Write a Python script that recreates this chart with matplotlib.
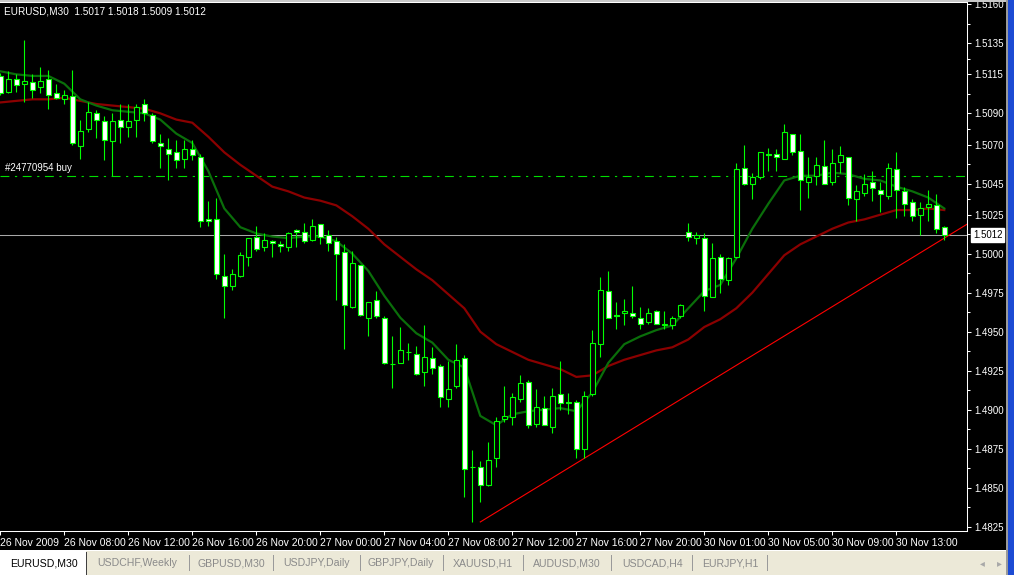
import matplotlib
matplotlib.use("Agg")
import matplotlib.pyplot as plt
import matplotlib.transforms as mtransforms
from matplotlib.patches import Rectangle

plt.rcParams['font.family'] = ['Liberation Sans', 'DejaVu Sans']

# EURUSD M30 candles, 26 Nov 04:00 .. 30 Nov 16:00
opens = [1.5114, 1.5104, 1.5112, 1.5109, 1.5110, 1.5107, 1.5112, 1.5103, 1.5099, 1.5101,
         1.5069, 1.5080, 1.5090, 1.5085, 1.5072, 1.5086, 1.5081, 1.5086, 1.5096, 1.5089,
         1.5071, 1.5067, 1.5065, 1.5061, 1.5067, 1.5062, 1.5022, 1.5022, 1.4986, 1.4979,
         1.4986, 1.4998, 1.5011, 1.5004, 1.5008, 1.5006, 1.5004, 1.5015, 1.5014, 1.5009,
         1.5019, 1.5012, 1.5008, 1.5001, 1.4966, 1.4993, 1.4959, 1.4970, 1.4959, 1.4929,
         1.4930, 1.4937, 1.4936, 1.4924, 1.4933, 1.4928, 1.4907, 1.4915, 1.4933, 1.4863,
         1.4863, 1.4852, 1.4869, 1.4894, 1.4895, 1.4907, 1.4918, 1.4891, 1.4901, 1.4889,
         1.4910, 1.4905, 1.4905, 1.4875, 1.4910, 1.4942, 1.4976, 1.4961, 1.4962, 1.4962,
         1.4959, 1.4956, 1.4963, 1.4954, 1.4954, 1.4960, 1.5014, 1.5010, 1.5010, 1.4972,
         1.4998, 1.4983, 1.4998, 1.5055, 1.5045, 1.5049, 1.5064, 1.5064, 1.5061, 1.5077,
         1.5066, 1.5046, 1.5050, 1.5056, 1.5046, 1.5059, 1.5062, 1.5035, 1.5039, 1.5046,
         1.5041, 1.5037, 1.5054, 1.5040, 1.5033, 1.5025, 1.5030, 1.5031, 1.5017]
highs = [1.5116, 1.5117, 1.5115, 1.5137, 1.5115, 1.5120, 1.5118, 1.5109, 1.5105, 1.5118,
         1.5086, 1.5097, 1.5092, 1.5088, 1.5090, 1.5096, 1.5096, 1.5096, 1.5099, 1.5090,
         1.5077, 1.5074, 1.5073, 1.5073, 1.5073, 1.5064, 1.5034, 1.5036, 1.5000, 1.4990,
         1.5001, 1.5010, 1.5018, 1.5013, 1.5009, 1.5008, 1.5014, 1.5016, 1.5020, 1.5022,
         1.5019, 1.5015, 1.5011, 1.5006, 1.5002, 1.4993, 1.4969, 1.4976, 1.4960, 1.4947,
         1.4953, 1.4943, 1.4941, 1.4954, 1.4940, 1.4929, 1.4931, 1.4942, 1.4935, 1.4874,
         1.4867, 1.4879, 1.4895, 1.4915, 1.4911, 1.4922, 1.4919, 1.4913, 1.4909, 1.4914,
         1.4931, 1.4911, 1.4906, 1.4912, 1.4951, 1.4985, 1.4989, 1.4969, 1.4971, 1.4979,
         1.4966, 1.4965, 1.4964, 1.4963, 1.4960, 1.4968, 1.5020, 1.5014, 1.5013, 1.5007,
         1.5000, 1.4998, 1.5058, 1.5070, 1.5052, 1.5065, 1.5068, 1.5067, 1.5083, 1.5077,
         1.5077, 1.5062, 1.5062, 1.5073, 1.5067, 1.5069, 1.5062, 1.5044, 1.5051, 1.5053,
         1.5046, 1.5058, 1.5065, 1.5043, 1.5035, 1.5033, 1.5041, 1.5038, 1.5018]
lows = [1.5102, 1.5103, 1.5104, 1.5097, 1.5100, 1.5103, 1.5093, 1.5099, 1.5096, 1.5070,
        1.5061, 1.5078, 1.5074, 1.5060, 1.5050, 1.5071, 1.5075, 1.5075, 1.5085, 1.5071,
        1.5055, 1.5047, 1.5055, 1.5055, 1.5060, 1.5017, 1.5018, 1.4984, 1.4959, 1.4977,
        1.4985, 1.4992, 1.5002, 1.5002, 1.4998, 1.5001, 1.5002, 1.5004, 1.5007, 1.5008,
        1.5006, 1.5002, 1.4970, 1.4939, 1.4965, 1.4960, 1.4947, 1.4959, 1.4929, 1.4914,
        1.4930, 1.4932, 1.4922, 1.4915, 1.4923, 1.4902, 1.4902, 1.4914, 1.4844, 1.4828,
        1.4841, 1.4851, 1.4863, 1.4892, 1.4890, 1.4905, 1.4888, 1.4889, 1.4890, 1.4885,
        1.4900, 1.4897, 1.4869, 1.4869, 1.4909, 1.4934, 1.4959, 1.4952, 1.4954, 1.4959,
        1.4952, 1.4955, 1.4955, 1.4952, 1.4952, 1.4959, 1.5008, 1.5006, 1.4963, 1.4972,
        1.4975, 1.4980, 1.4997, 1.5044, 1.5035, 1.5048, 1.5053, 1.5053, 1.5061, 1.5063,
        1.5028, 1.5036, 1.5044, 1.5045, 1.5044, 1.5052, 1.5031, 1.5021, 1.5037, 1.5034,
        1.5027, 1.5035, 1.5023, 1.5024, 1.5021, 1.5012, 1.5021, 1.5013, 1.5009]
closes = [1.5103, 1.5112, 1.5108, 1.5111, 1.5105, 1.5111, 1.5102, 1.5100, 1.5102, 1.5071,
          1.5079, 1.5091, 1.5086, 1.5073, 1.5085, 1.5081, 1.5085, 1.5094, 1.5090, 1.5072,
          1.5069, 1.5064, 1.5060, 1.5067, 1.5063, 1.5021, 1.5021, 1.4987, 1.4979, 1.4987,
          1.4999, 1.5010, 1.5003, 1.5009, 1.5007, 1.5005, 1.5013, 1.5014, 1.5008, 1.5018,
          1.5011, 1.5007, 1.5000, 1.4967, 1.4994, 1.4961, 1.4969, 1.4960, 1.4930, 1.4929,
          1.4938, 1.4937, 1.4923, 1.4934, 1.4927, 1.4908, 1.4913, 1.4932, 1.4862, 1.4863,
          1.4852, 1.4868, 1.4893, 1.4896, 1.4908, 1.4917, 1.4890, 1.4902, 1.4890, 1.4909,
          1.4904, 1.4904, 1.4875, 1.4909, 1.4943, 1.4977, 1.4959, 1.4960, 1.4963, 1.4960,
          1.4955, 1.4962, 1.4955, 1.4955, 1.4959, 1.4967, 1.5011, 1.5012, 1.4973, 1.4997,
          1.4984, 1.4997, 1.5054, 1.5045, 1.5049, 1.5065, 1.5063, 1.5062, 1.5078, 1.5065,
          1.5047, 1.5049, 1.5057, 1.5045, 1.5058, 1.5063, 1.5036, 1.5040, 1.5045, 1.5042,
          1.5038, 1.5055, 1.5041, 1.5032, 1.5024, 1.5029, 1.5032, 1.5016, 1.5012]

# moving averages read every second bar
ma_bars = list(range(0, 119, 2))
ma_fast = [1.5117, 1.5115, 1.5114, 1.5114, 1.5109, 1.5099, 1.5095, 1.5092, 1.5091, 1.5090,
           1.5086, 1.5077, 1.5071, 1.5053, 1.5029, 1.5017, 1.5013, 1.5011, 1.5010, 1.5011,
           1.5011, 1.5008, 1.5000, 1.4989, 1.4973, 1.4959, 1.4949, 1.4943, 1.4932, 1.4927,
           1.4896, 1.4890, 1.4897, 1.4899, 1.4900, 1.4901, 1.4899, 1.4911, 1.4930, 1.4942,
           1.4947, 1.4951, 1.4954, 1.4965, 1.4976, 1.4980, 1.4997, 1.5016, 1.5032, 1.5047,
           1.5050, 1.5050, 1.5052, 1.5051, 1.5048, 1.5047, 1.5043, 1.5040, 1.5036, 1.5029]
ma_slow = [1.5097, 1.5098, 1.5099, 1.5099, 1.5100, 1.5098, 1.5096, 1.5095, 1.5094, 1.5093,
           1.5090, 1.5086, 1.5084, 1.5075, 1.5065, 1.5057, 1.5050, 1.5043, 1.5040, 1.5036,
           1.5034, 1.5031, 1.5024, 1.5016, 1.5006, 1.4998, 1.4990, 1.4983, 1.4974, 1.4965,
           1.4950, 1.4942, 1.4937, 1.4932, 1.4929, 1.4926, 1.4921, 1.4922, 1.4928, 1.4932,
           1.4935, 1.4938, 1.4940, 1.4945, 1.4953, 1.4958, 1.4965, 1.4975, 1.4987, 1.4999,
           1.5006, 1.5011, 1.5016, 1.5020, 1.5022, 1.5025, 1.5028, 1.5028, 1.5029, 1.5028]

trend_bars = [60, 118]
trend_prices = [1.4828, 1.5010]
order_price = 1.5050
order_label = "#24770954 buy"
bid = 1.5012
title = "EURUSD,M30  1.5017 1.5018 1.5009 1.5012"

price_ticks = [1.5160, 1.5135, 1.5115, 1.5090, 1.5070, 1.5045, 1.5025, 1.5000,
               1.4975, 1.4950, 1.4925, 1.4900, 1.4875, 1.4850, 1.4825]
time_ticks = [0, 8, 16, 24, 32, 40, 48, 56, 64, 72, 80, 88, 96, 104, 112]
time_labels = ["26 Nov 2009", "26 Nov 08:00", "26 Nov 12:00", "26 Nov 16:00", "26 Nov 20:00",
               "27 Nov 00:00", "27 Nov 04:00", "27 Nov 08:00", "27 Nov 12:00", "27 Nov 16:00",
               "27 Nov 20:00", "30 Nov 01:00", "30 Nov 05:00", "30 Nov 09:00", "30 Nov 13:00"]
tabs = ["EURUSD,M30", "USDCHF,Weekly", "GBPUSD,M30", "USDJPY,Daily", "GBPJPY,Daily",
        "XAUUSD,H1", "AUDUSD,M30", "USDCAD,H4", "EURJPY,H1"]

W, H = 1014, 575
fig = plt.figure(figsize=(W / 100, H / 100), dpi=100, facecolor='black')
ax = fig.add_axes([0, 44 / H, 967 / W, 529 / H])
ax.set_facecolor('black')
ax.set_xlim(-0.04, 120.84)
ax.set_ylim(1.48222, 1.51614)

lime = '#00ff00'

# indicator lines behind the candles
ax.plot(ma_bars, ma_slow, color='#8b0000', lw=1.6, zorder=2)
ax.plot(ma_bars, ma_fast, color='#0a6e0a', lw=1.6, zorder=2)
ax.axhline(order_price, color='#00dd00', lw=0.8, dashes=(8, 5, 2, 5), zorder=1)
ax.annotate(order_label, xy=(0, order_price), xytext=(5, 3), textcoords='offset pixels',
            color='white', fontsize=7, va='bottom', ha='left')
ax.axhline(bid, color='#a8a8a8', lw=0.75, zorder=1)

# trendline ray
x_end = ax.get_xlim()[1]
slope = (trend_prices[1] - trend_prices[0]) / (trend_bars[1] - trend_bars[0])
ax.plot([trend_bars[0], x_end], [trend_prices[0], trend_prices[0] + slope * (x_end - trend_bars[0])],
        color='#ff0000', lw=0.8, zorder=2)

# candles
bars = list(range(len(opens)))
ax.vlines(bars, lows, highs, color=lime, lw=0.8, zorder=3)
bottoms = [min(o, c) for o, c in zip(opens, closes)]
heights = [abs(c - o) for o, c in zip(opens, closes)]
faces = ['white' if c < o else 'black' for o, c in zip(opens, closes)]
ax.bar(bars, heights, bottom=bottoms, width=0.6, color=faces, edgecolor=lime,
       linewidth=0.8, zorder=4)

# axes styling
ax.spines['left'].set_visible(False)
for s in ['right', 'bottom', 'top']:
    ax.spines[s].set_color('white')
    ax.spines[s].set_linewidth(0.75)
ax.yaxis.tick_right()
ax.set_yticks(price_ticks)
ax.set_yticklabels(["%.4f" % p for p in price_ticks])
ax.set_yticks([(a + b) / 2 for a, b in zip(price_ticks[:-1], price_ticks[1:])], minor=True)
ax.tick_params(axis='y', which='both', colors='white', labelsize=7, length=3, width=0.75, pad=2)
ax.tick_params(axis='y', which='minor', length=2)
ax.set_xticks(time_ticks)
ax.set_xticklabels(time_labels, ha='left')
ax.tick_params(axis='x', colors='white', labelsize=7.5, length=3, width=0.75, pad=2)

# current price tag
tag = mtransforms.blended_transform_factory(ax.transAxes, ax.transData)
ax.text(1.0 + 6 / 967, bid, "%.4f" % bid, transform=tag, ha='left', va='center', color='black',
        fontsize=7, bbox=dict(facecolor='white', edgecolor='white', pad=1.2), zorder=10)

fig.text(4 / W, 1 - 12 / H, title, color='white', fontsize=7.2, ha='left', va='center')

# window chrome: top border, right blue frame, tab bar
fig.patches.append(Rectangle((0, 1 - 2 / H), 1008 / W, 2 / H, transform=fig.transFigure,
                             facecolor='#c8c8c8', edgecolor='none'))
fig.patches.append(Rectangle((1006 / W, 0), 2 / W, 1, transform=fig.transFigure,
                             facecolor='#9a9a9a', edgecolor='none'))
fig.patches.append(Rectangle((1008 / W, 0), 6 / W, 1, transform=fig.transFigure,
                             facecolor='#1c4bd4', edgecolor='none'))
fig.patches.append(Rectangle((0, 0), 1006 / W, 24 / H, transform=fig.transFigure,
                             facecolor='#ece9d8', edgecolor='none'))
fig.patches.append(Rectangle((0, 24 / H), 1006 / W, 1 / H, transform=fig.transFigure,
                             facecolor='white', edgecolor='none'))
fig.patches.append(Rectangle((0, 0), 86 / W, 25 / H, transform=fig.transFigure,
                             facecolor='white', edgecolor='none'))
fig.patches.append(Rectangle((86 / W, 0), 1 / W, 23 / H, transform=fig.transFigure,
                             facecolor='#404040', edgecolor='none'))

tab_x = [10, 97, 198, 283, 368, 453, 533, 622, 702]
sep_x = [189, 273, 360, 443, 523, 611, 692, 767]
for name, x in zip(tabs, tab_x):
    fig.text(x / W, 1 - 563 / H, name, color='black' if x == tab_x[0] else '#8a8a8a',
             fontsize=7.6, ha='left', va='center')
for x in sep_x:
    fig.patches.append(Rectangle((x / W, 4 / H), 1 / W, 16 / H, transform=fig.transFigure,
                                 facecolor='#9a9a9a', edgecolor='none'))
fig.text(982 / W, 1 - 563 / H, "\u25c2", color='#a8a8a8', fontsize=7, ha='center', va='center')
fig.text(999 / W, 1 - 563 / H, "\u25b8", color='#a8a8a8', fontsize=7, ha='center', va='center')

fig.savefig("out.png", dpi=100, facecolor='black')
